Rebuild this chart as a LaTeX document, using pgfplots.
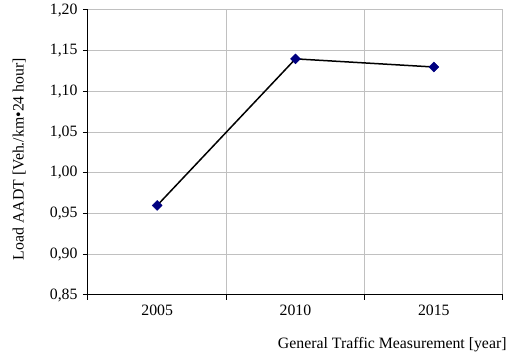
\documentclass[border=0pt]{standalone}
\usepackage{pgfplots}
\pgfplotsset{compat=1.18}
\usepackage{fontspec}
\setmainfont{Liberation Serif}
\definecolor{navyb}{RGB}{0,0,128}
\definecolor{gridg}{RGB}{192,192,192}
\begin{document}
\fontsize{15.8}{18}\selectfont
\begin{tikzpicture}[x=1pt,y=1pt]
\useasboundingbox (-88,-66) rectangle (427,295);
\begin{axis}[
  at={(0,0)}, anchor=south west,
  scale only axis, width=415pt, height=285pt,
  xmin=0, xmax=3, ymin=0.85, ymax=1.2,
  axis x line*=bottom, axis y line*=left,
  axis line style={black, line width=1pt, -},
  xtick={0,1,2,3}, x tick label as interval,
  xticklabels={2005,2010,2015},
  ytick={0.85,0.90,0.95,1.00,1.05,1.10,1.15,1.20},
  yticklabel style={/pgf/number format/.cd, fixed, fixed zerofill, precision=2, use comma},
  /pgf/number format/assume math mode=true,
  tick label style={font=\fontsize{15.8}{18}\selectfont, black},
  label style={font=\fontsize{15.8}{18}\selectfont, black},
  tick align=outside, major tick length=5pt,
  tick style={black, line width=1pt},
  grid=major, major grid style={gridg, line width=1pt},
  xlabel={General Traffic Measurement [year]},
  xlabel style={at={(axis description cs:1,0)}, anchor=east, xshift=9pt, yshift=-50pt},
  ylabel={Load AADT [Veh./km\textbullet 24 hour]},
  ylabel style={at={(axis description cs:-0.166,0.477)}, anchor=center},
  clip=false,
]
\addplot[black, line width=1.5pt, mark=square*, mark size=3.5pt,
  mark options={rotate=45, fill=navyb, draw=navyb, line width=0.5pt}]
  coordinates {(0.5,0.96) (1.5,1.14) (2.5,1.13)};
\end{axis}
\end{tikzpicture}
\end{document}
